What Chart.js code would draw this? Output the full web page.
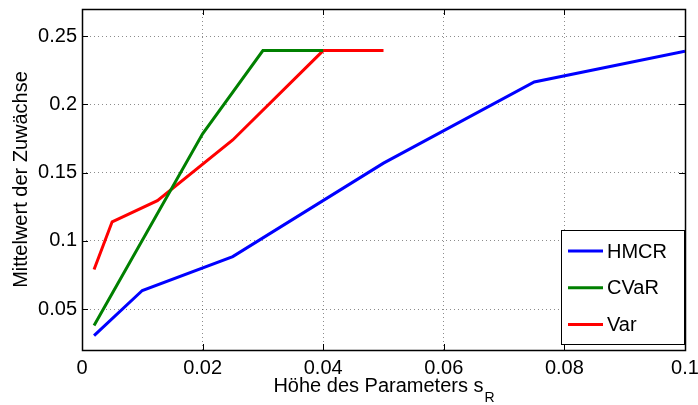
<!DOCTYPE html>
<html>
<head>
<meta charset="utf-8">
<script src="https://cdn.jsdelivr.net/npm/chart.js@4/dist/chart.umd.min.js"></script>
<style>
html,body{margin:0;padding:0;background:#fff;}
#wrap{width:698px;height:405px;position:relative;}
</style>
</head>
<body>
<div id="wrap"><canvas id="c" width="698" height="405"></canvas></div>
<script>
const SERIES_NAMES = ['HMCR', 'CVaR', 'Var'];
const SERIES_COLORS = ['#0000ff', '#008000', '#ff0000'];
const HMCR_X = [0.002, 0.01, 0.025, 0.05, 0.075, 0.1];
const HMCR_Y = [0.0305, 0.0636, 0.0885, 0.157, 0.2165, 0.239];
const CVAR_X = [0.002, 0.02, 0.03, 0.04];
const CVAR_Y = [0.038, 0.1785, 0.2395, 0.2395];
const VAR_X = [0.002, 0.005, 0.0125, 0.025, 0.04, 0.05];
const VAR_Y = [0.079, 0.114, 0.1295, 0.174, 0.2395, 0.2395];
const X_TICKS = [0, 0.02, 0.04, 0.06, 0.08, 0.1];
const X_TICK_LABELS = ['0', '0.02', '0.04', '0.06', '0.08', '0.1'];
const Y_TICKS = [0.05, 0.1, 0.15, 0.2, 0.25];
const Y_TICK_LABELS = ['0.05', '0.1', '0.15', '0.2', '0.25'];
const X_TITLE = 'Höhe des Parameters s';
const X_TITLE_SUB = 'R';
const Y_TITLE = 'Mittelwert der Zuwächse';

const FONT = 'Liberation Sans, Arial, Helvetica, sans-serif';

function pts(xs, ys) { return xs.map((x, i) => ({x: x, y: ys[i]})); }

const datasets = [pts(HMCR_X, HMCR_Y), pts(CVAR_X, CVAR_Y), pts(VAR_X, VAR_Y)].map((d, i) => ({
  label: SERIES_NAMES[i],
  data: d,
  borderColor: SERIES_COLORS[i],
  backgroundColor: SERIES_COLORS[i],
  borderWidth: 3,
  pointRadius: 0,
  tension: 0,
  fill: false
}));

const decor = {
  id: 'decor',
  afterDraw(chart) {
    const ctx = chart.ctx;
    const a = chart.chartArea;
    const xs = chart.scales.x, ys = chart.scales.y;
    ctx.save();
    // inward tick marks
    ctx.strokeStyle = '#000';
    ctx.lineWidth = 1;
    ctx.beginPath();
    X_TICKS.forEach(v => {
      const px = Math.round(xs.getPixelForValue(v)) + 0.5;
      ctx.moveTo(px, a.bottom); ctx.lineTo(px, a.bottom - 6);
      ctx.moveTo(px, a.top); ctx.lineTo(px, a.top + 6);
    });
    Y_TICKS.forEach(v => {
      const py = Math.round(ys.getPixelForValue(v)) + 0.5;
      ctx.moveTo(a.left, py); ctx.lineTo(a.left + 6, py);
      ctx.moveTo(a.right, py); ctx.lineTo(a.right - 6, py);
    });
    ctx.stroke();
    // frame
    ctx.lineWidth = 1.5;
    ctx.strokeRect(Math.round(a.left) + 0.5, Math.round(a.top) + 0.5, Math.round(a.right - a.left), Math.round(a.bottom - a.top));

    // legend
    const lx = 561, ly = 230, lw = 123, lh = 114;
    ctx.fillStyle = '#fff';
    ctx.fillRect(lx, ly, lw, lh);
    ctx.lineWidth = 1;
    ctx.strokeStyle = '#000';
    ctx.strokeRect(lx + 0.5, ly + 0.5, lw, lh);
    ctx.font = '20px ' + FONT;
    ctx.textBaseline = 'middle';
    ctx.textAlign = 'left';
    chart.data.datasets.forEach((ds, i) => {
      const yy = 251 + i * 36.7;
      ctx.strokeStyle = ds.borderColor;
      ctx.lineWidth = 3;
      ctx.beginPath();
      ctx.moveTo(568, yy); ctx.lineTo(603, yy);
      ctx.stroke();
      ctx.fillStyle = '#000';
      ctx.fillText(ds.label, 607, yy + 1);
    });

    // x title with subscript
    ctx.fillStyle = '#000';
    ctx.font = '20px ' + FONT;
    const w1 = ctx.measureText(X_TITLE).width;
    ctx.font = '14px ' + FONT;
    const w2 = ctx.measureText(X_TITLE_SUB).width;
    const cx = (a.left + a.right) / 2;
    const sx = cx - (w1 + w2) / 2;
    ctx.textBaseline = 'alphabetic';
    ctx.font = '20px ' + FONT;
    ctx.fillText(X_TITLE, sx, 392);
    ctx.font = '14px ' + FONT;
    ctx.fillText(X_TITLE_SUB, sx + w1 + 1, 402);

    // y title
    ctx.font = '20px ' + FONT;
    ctx.textAlign = 'center';
    ctx.textBaseline = 'middle';
    ctx.translate(21, (a.top + a.bottom) / 2);
    ctx.rotate(-Math.PI / 2);
    ctx.fillText(Y_TITLE, 0, 0);
    ctx.restore();
  }
};

function zeroPad(s) { s.paddingLeft = 0; s.paddingRight = 0; s.paddingTop = 0; s.paddingBottom = 0; }

new Chart(document.getElementById('c'), {
  type: 'line',
  data: { datasets: datasets },
  options: {
    responsive: false,
    animation: false,
    events: [],
    layout: { padding: { left: 0, right: 13, top: 9, bottom: 0 } },
    plugins: { legend: { display: false }, tooltip: { enabled: false } },
    scales: {
      x: {
        type: 'linear',
        min: 0, max: 0.1,
        afterBuildTicks: s => { s.ticks = X_TICKS.map(v => ({value: v})); },
        afterFit: s => { s.height = 55; zeroPad(s); },
        ticks: {
          autoSkip: false, maxRotation: 0, padding: 6,
          color: '#000', font: { size: 20, family: FONT },
          callback: (v) => { const i = X_TICKS.findIndex(t => Math.abs(t - v) < 1e-9); return i >= 0 ? X_TICK_LABELS[i] : ''; }
        },
        grid: { color: 'rgba(0,0,0,0.45)', lineWidth: 1, drawTicks: false },
        border: { display: false, dash: [1, 3] }
      },
      y: {
        type: 'linear',
        min: 0.02, max: 0.27,
        afterBuildTicks: s => { s.ticks = Y_TICKS.map(v => ({value: v})); },
        afterFit: s => { s.width = 82; zeroPad(s); },
        ticks: {
          autoSkip: false, padding: 5,
          color: '#000', font: { size: 20, family: FONT },
          callback: (v) => { const i = Y_TICKS.findIndex(t => Math.abs(t - v) < 1e-9); return i >= 0 ? Y_TICK_LABELS[i] : ''; }
        },
        grid: { color: 'rgba(0,0,0,0.45)', lineWidth: 1, drawTicks: false },
        border: { display: false, dash: [1, 3] }
      }
    }
  },
  plugins: [decor]
});
</script>
</body>
</html>
